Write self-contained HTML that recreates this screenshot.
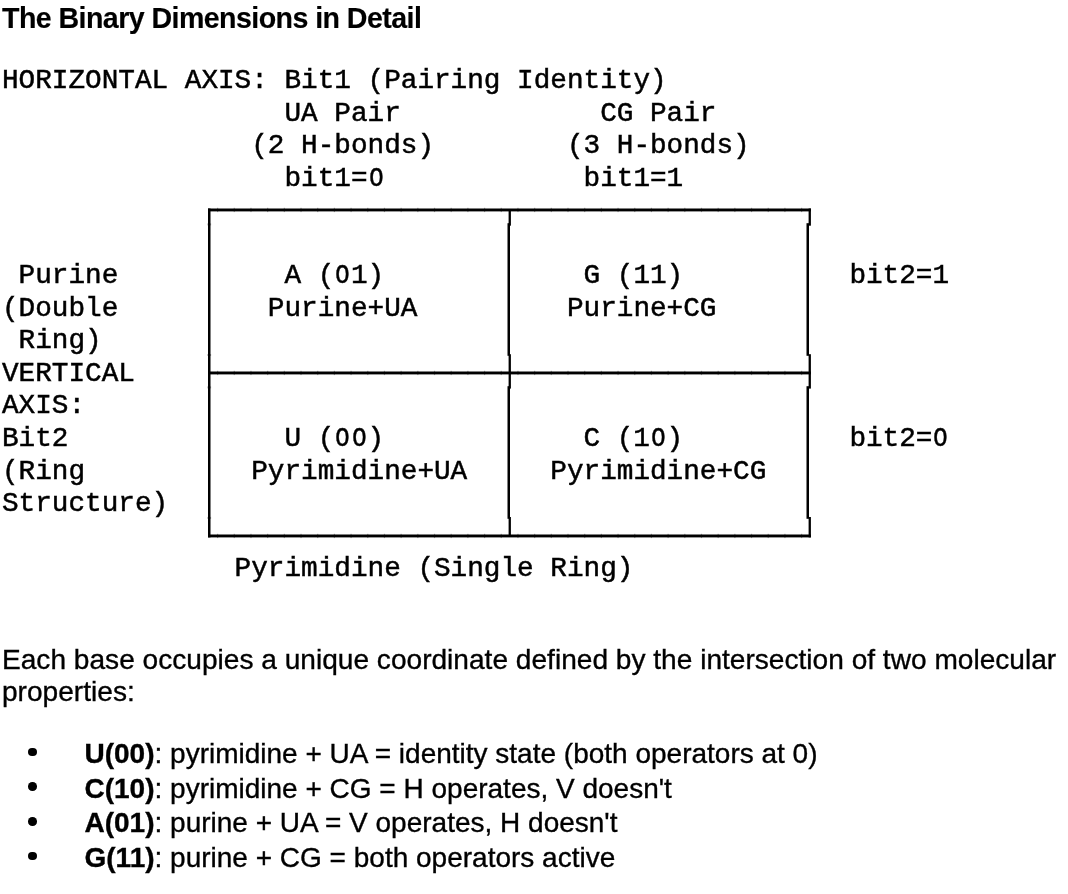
<!DOCTYPE html>
<html><head><meta charset="utf-8">
<style>
html,body{margin:0;padding:0;background:#fff;color:#000;}
body{width:1068px;height:894px;overflow:hidden;position:relative;}
h3,pre,p,ul{will-change:transform;-webkit-text-stroke:0.35px #000;}
h3{position:absolute;left:2px;top:-0.25px;-webkit-text-stroke:0.15px #000 !important;margin:0;font-family:"Liberation Sans",sans-serif;font-weight:bold;font-size:28.6px;letter-spacing:-0.57px;line-height:36px;white-space:nowrap;}
pre{position:absolute;left:1.75px;top:65px;-webkit-text-stroke:0.5px #000 !important;margin:0;font-family:"Liberation Mono",monospace;font-size:27.7px;line-height:32.55px;}
svg{position:absolute;left:0;top:0;}
.z{display:inline-block;width:1ch;transform:scaleX(0.86);transform-origin:50% 50%;}
p{position:absolute;left:2px;top:643.8px;margin:0;font-family:"Liberation Sans",sans-serif;font-size:28.1px;line-height:32.3px;width:1066px;}
ul{position:absolute;left:0;top:736.5px;margin:0;padding:0;list-style:none;font-family:"Liberation Sans",sans-serif;font-size:28px;line-height:34.65px;}
li{position:relative;padding-left:84.5px;white-space:nowrap;}
li:before{content:"";position:absolute;left:28.4px;top:10.6px;width:8.6px;height:8.6px;border-radius:50%;background:#000;}
</style></head><body>
<h3>The Binary Dimensions in Detail</h3>
<pre>HORIZONTAL AXIS: Bit1 (Pairing Identity)
                 UA Pair            CG Pair
               (2 H-bonds)        (3 H-bonds)
                 bit1=<span class="z">O</span>            bit1=1


 Purine          A (<span class="z">O</span>1)            G (11)          bit2=1
(Double         Purine+UA         Purine+CG
 Ring)
VERTICAL
AXIS:
Bit2             U (<span class="z">O</span><span class="z">O</span>)            C (1<span class="z">O</span>)          bit2=<span class="z">O</span>
(Ring          Pyrimidine+UA     Pyrimidine+CG
Structure)

              Pyrimidine (Single Ring)</pre>
<svg width="1068" height="894" viewBox="0 0 1068 894"><rect x="217.0" y="207.8" width="1.2" height="4.3" fill-opacity="0.35"/><rect x="217.0" y="370.8" width="1.2" height="4.3" fill-opacity="0.35"/><rect x="217.0" y="533.8" width="1.2" height="4.3" fill-opacity="0.35"/><rect x="233.68" y="207.8" width="1.2" height="4.3" fill-opacity="0.35"/><rect x="233.68" y="370.8" width="1.2" height="4.3" fill-opacity="0.35"/><rect x="233.68" y="533.8" width="1.2" height="4.3" fill-opacity="0.35"/><rect x="250.37" y="207.8" width="1.2" height="4.3" fill-opacity="0.35"/><rect x="250.37" y="370.8" width="1.2" height="4.3" fill-opacity="0.35"/><rect x="250.37" y="533.8" width="1.2" height="4.3" fill-opacity="0.35"/><rect x="267.06" y="207.8" width="1.2" height="4.3" fill-opacity="0.35"/><rect x="267.06" y="370.8" width="1.2" height="4.3" fill-opacity="0.35"/><rect x="267.06" y="533.8" width="1.2" height="4.3" fill-opacity="0.35"/><rect x="283.74" y="207.8" width="1.2" height="4.3" fill-opacity="0.35"/><rect x="283.74" y="370.8" width="1.2" height="4.3" fill-opacity="0.35"/><rect x="283.74" y="533.8" width="1.2" height="4.3" fill-opacity="0.35"/><rect x="300.43" y="207.8" width="1.2" height="4.3" fill-opacity="0.35"/><rect x="300.43" y="370.8" width="1.2" height="4.3" fill-opacity="0.35"/><rect x="300.43" y="533.8" width="1.2" height="4.3" fill-opacity="0.35"/><rect x="317.11" y="207.8" width="1.2" height="4.3" fill-opacity="0.35"/><rect x="317.11" y="370.8" width="1.2" height="4.3" fill-opacity="0.35"/><rect x="317.11" y="533.8" width="1.2" height="4.3" fill-opacity="0.35"/><rect x="333.8" y="207.8" width="1.2" height="4.3" fill-opacity="0.35"/><rect x="333.8" y="370.8" width="1.2" height="4.3" fill-opacity="0.35"/><rect x="333.8" y="533.8" width="1.2" height="4.3" fill-opacity="0.35"/><rect x="350.49" y="207.8" width="1.2" height="4.3" fill-opacity="0.35"/><rect x="350.49" y="370.8" width="1.2" height="4.3" fill-opacity="0.35"/><rect x="350.49" y="533.8" width="1.2" height="4.3" fill-opacity="0.35"/><rect x="367.17" y="207.8" width="1.2" height="4.3" fill-opacity="0.35"/><rect x="367.17" y="370.8" width="1.2" height="4.3" fill-opacity="0.35"/><rect x="367.17" y="533.8" width="1.2" height="4.3" fill-opacity="0.35"/><rect x="383.86" y="207.8" width="1.2" height="4.3" fill-opacity="0.35"/><rect x="383.86" y="370.8" width="1.2" height="4.3" fill-opacity="0.35"/><rect x="383.86" y="533.8" width="1.2" height="4.3" fill-opacity="0.35"/><rect x="400.54" y="207.8" width="1.2" height="4.3" fill-opacity="0.35"/><rect x="400.54" y="370.8" width="1.2" height="4.3" fill-opacity="0.35"/><rect x="400.54" y="533.8" width="1.2" height="4.3" fill-opacity="0.35"/><rect x="417.23" y="207.8" width="1.2" height="4.3" fill-opacity="0.35"/><rect x="417.23" y="370.8" width="1.2" height="4.3" fill-opacity="0.35"/><rect x="417.23" y="533.8" width="1.2" height="4.3" fill-opacity="0.35"/><rect x="433.92" y="207.8" width="1.2" height="4.3" fill-opacity="0.35"/><rect x="433.92" y="370.8" width="1.2" height="4.3" fill-opacity="0.35"/><rect x="433.92" y="533.8" width="1.2" height="4.3" fill-opacity="0.35"/><rect x="450.6" y="207.8" width="1.2" height="4.3" fill-opacity="0.35"/><rect x="450.6" y="370.8" width="1.2" height="4.3" fill-opacity="0.35"/><rect x="450.6" y="533.8" width="1.2" height="4.3" fill-opacity="0.35"/><rect x="467.29" y="207.8" width="1.2" height="4.3" fill-opacity="0.35"/><rect x="467.29" y="370.8" width="1.2" height="4.3" fill-opacity="0.35"/><rect x="467.29" y="533.8" width="1.2" height="4.3" fill-opacity="0.35"/><rect x="483.97" y="207.8" width="1.2" height="4.3" fill-opacity="0.35"/><rect x="483.97" y="370.8" width="1.2" height="4.3" fill-opacity="0.35"/><rect x="483.97" y="533.8" width="1.2" height="4.3" fill-opacity="0.35"/><rect x="517.35" y="207.8" width="1.2" height="4.3" fill-opacity="0.35"/><rect x="517.35" y="370.8" width="1.2" height="4.3" fill-opacity="0.35"/><rect x="517.35" y="533.8" width="1.2" height="4.3" fill-opacity="0.35"/><rect x="534.03" y="207.8" width="1.2" height="4.3" fill-opacity="0.35"/><rect x="534.03" y="370.8" width="1.2" height="4.3" fill-opacity="0.35"/><rect x="534.03" y="533.8" width="1.2" height="4.3" fill-opacity="0.35"/><rect x="550.72" y="207.8" width="1.2" height="4.3" fill-opacity="0.35"/><rect x="550.72" y="370.8" width="1.2" height="4.3" fill-opacity="0.35"/><rect x="550.72" y="533.8" width="1.2" height="4.3" fill-opacity="0.35"/><rect x="567.4" y="207.8" width="1.2" height="4.3" fill-opacity="0.35"/><rect x="567.4" y="370.8" width="1.2" height="4.3" fill-opacity="0.35"/><rect x="567.4" y="533.8" width="1.2" height="4.3" fill-opacity="0.35"/><rect x="584.09" y="207.8" width="1.2" height="4.3" fill-opacity="0.35"/><rect x="584.09" y="370.8" width="1.2" height="4.3" fill-opacity="0.35"/><rect x="584.09" y="533.8" width="1.2" height="4.3" fill-opacity="0.35"/><rect x="600.78" y="207.8" width="1.2" height="4.3" fill-opacity="0.35"/><rect x="600.78" y="370.8" width="1.2" height="4.3" fill-opacity="0.35"/><rect x="600.78" y="533.8" width="1.2" height="4.3" fill-opacity="0.35"/><rect x="617.46" y="207.8" width="1.2" height="4.3" fill-opacity="0.35"/><rect x="617.46" y="370.8" width="1.2" height="4.3" fill-opacity="0.35"/><rect x="617.46" y="533.8" width="1.2" height="4.3" fill-opacity="0.35"/><rect x="634.15" y="207.8" width="1.2" height="4.3" fill-opacity="0.35"/><rect x="634.15" y="370.8" width="1.2" height="4.3" fill-opacity="0.35"/><rect x="634.15" y="533.8" width="1.2" height="4.3" fill-opacity="0.35"/><rect x="650.83" y="207.8" width="1.2" height="4.3" fill-opacity="0.35"/><rect x="650.83" y="370.8" width="1.2" height="4.3" fill-opacity="0.35"/><rect x="650.83" y="533.8" width="1.2" height="4.3" fill-opacity="0.35"/><rect x="667.52" y="207.8" width="1.2" height="4.3" fill-opacity="0.35"/><rect x="667.52" y="370.8" width="1.2" height="4.3" fill-opacity="0.35"/><rect x="667.52" y="533.8" width="1.2" height="4.3" fill-opacity="0.35"/><rect x="684.21" y="207.8" width="1.2" height="4.3" fill-opacity="0.35"/><rect x="684.21" y="370.8" width="1.2" height="4.3" fill-opacity="0.35"/><rect x="684.21" y="533.8" width="1.2" height="4.3" fill-opacity="0.35"/><rect x="700.89" y="207.8" width="1.2" height="4.3" fill-opacity="0.35"/><rect x="700.89" y="370.8" width="1.2" height="4.3" fill-opacity="0.35"/><rect x="700.89" y="533.8" width="1.2" height="4.3" fill-opacity="0.35"/><rect x="717.58" y="207.8" width="1.2" height="4.3" fill-opacity="0.35"/><rect x="717.58" y="370.8" width="1.2" height="4.3" fill-opacity="0.35"/><rect x="717.58" y="533.8" width="1.2" height="4.3" fill-opacity="0.35"/><rect x="734.26" y="207.8" width="1.2" height="4.3" fill-opacity="0.35"/><rect x="734.26" y="370.8" width="1.2" height="4.3" fill-opacity="0.35"/><rect x="734.26" y="533.8" width="1.2" height="4.3" fill-opacity="0.35"/><rect x="750.95" y="207.8" width="1.2" height="4.3" fill-opacity="0.35"/><rect x="750.95" y="370.8" width="1.2" height="4.3" fill-opacity="0.35"/><rect x="750.95" y="533.8" width="1.2" height="4.3" fill-opacity="0.35"/><rect x="767.64" y="207.8" width="1.2" height="4.3" fill-opacity="0.35"/><rect x="767.64" y="370.8" width="1.2" height="4.3" fill-opacity="0.35"/><rect x="767.64" y="533.8" width="1.2" height="4.3" fill-opacity="0.35"/><rect x="784.32" y="207.8" width="1.2" height="4.3" fill-opacity="0.35"/><rect x="784.32" y="370.8" width="1.2" height="4.3" fill-opacity="0.35"/><rect x="784.32" y="533.8" width="1.2" height="4.3" fill-opacity="0.35"/><rect x="500.66" y="207.8" width="1.2" height="4.3" fill-opacity="0.35"/><rect x="500.66" y="370.8" width="1.2" height="4.3" fill-opacity="0.35"/><rect x="500.66" y="533.8" width="1.2" height="4.3" fill-opacity="0.35"/><rect x="801.01" y="207.8" width="1.2" height="4.3" fill-opacity="0.35"/><rect x="801.01" y="370.8" width="1.2" height="4.3" fill-opacity="0.35"/><rect x="801.01" y="533.8" width="1.2" height="4.3" fill-opacity="0.35"/><rect x="207.4" y="223.4" width="3.7" height="2.0" fill-opacity="0.35"/><rect x="207.4" y="354.0" width="3.7" height="2.0" fill-opacity="0.35"/><rect x="207.4" y="386.4" width="3.7" height="2.0" fill-opacity="0.35"/><rect x="207.4" y="516.9" width="3.7" height="2.0" fill-opacity="0.35"/><rect x="208.0" y="208.5" width="602.9" height="2.9"/><rect x="208.0" y="371.5" width="602.9" height="2.9"/><rect x="208.0" y="534.5" width="602.9" height="2.9"/><rect x="208.0" y="208.5" width="2.5" height="328.9"/><rect x="507.5" y="223.2" width="2.5" height="132.6"/><rect x="507.5" y="386.2" width="2.5" height="132.6"/><rect x="508.6" y="210.9" width="2.3" height="14.8"/><rect x="508.6" y="354.2" width="2.3" height="34.4"/><rect x="508.6" y="517.0" width="2.3" height="18.0"/><rect x="806.5" y="223.2" width="2.5" height="132.6"/><rect x="806.5" y="386.2" width="2.5" height="132.6"/><rect x="808.6" y="208.5" width="2.3" height="17.2"/><rect x="808.6" y="354.2" width="2.3" height="34.4"/><rect x="808.6" y="517.0" width="2.3" height="20.4"/></svg>
<p>Each base occupies a unique coordinate defined by the intersection of two molecular properties:</p>
<ul>
<li><b>U(00)</b>: pyrimidine + UA = identity state (both operators at 0)</li>
<li><b>C(10)</b>: pyrimidine + CG = H operates, V doesn't</li>
<li><b>A(01)</b>: purine + UA = V operates, H doesn't</li>
<li><b>G(11)</b>: purine + CG = both operators active</li>
</ul>
</body></html>
